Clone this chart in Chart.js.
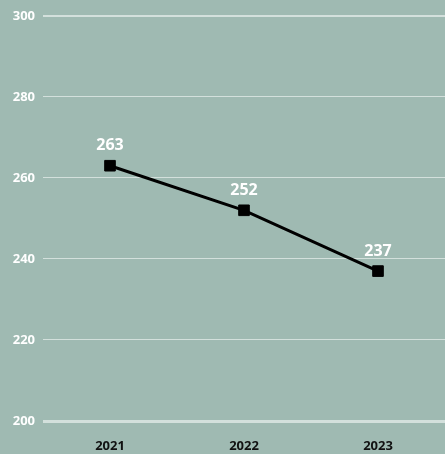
<!DOCTYPE html>
<html>
<head>
<meta charset="utf-8">
<script src="https://cdn.jsdelivr.net/npm/chart.js@4"></script>
<style>
  html, body { margin: 0; padding: 0; background: #9fbab2; overflow: hidden; }
  #wrap { width: 445px; height: 454px; }
</style>
</head>
<body>
<div id="wrap"><canvas id="myChart"></canvas></div>
<script>
const years = ["2021", "2022", "2023"];
const values = [263, 252, 237];
const yTicks = [200, 220, 240, 260, 280, 300];

// values drawn above each point
const valueLabels = {
  id: "valueLabels",
  afterDatasetsDraw(chart) {
    const ctx = chart.ctx;
    const meta = chart.getDatasetMeta(0);
    ctx.save();
    ctx.font = "bold 16px 'Open Sans'";
    ctx.fillStyle = "#ffffff";
    ctx.textAlign = "center";
    ctx.textBaseline = "middle";
    meta.data.forEach((pt, i) => {
      ctx.fillText(values[i], pt.x, pt.y - 20);
    });
    ctx.restore();
  },
};

new Chart("myChart", {
  type: "line",
  data: {
    labels: years,
    datasets: [
      {
        data: values,
        borderColor: "#000000",
        borderWidth: 3,
        pointStyle: "rect",
        pointRadius: 7.5,
        pointBackgroundColor: "#000000",
        pointBorderColor: "#000000",
        pointBorderWidth: 1,
        tension: 0,
      },
    ],
  },
  options: {
    responsive: true,
    maintainAspectRatio: false,
    animation: false,
    layout: { autoPadding: false, padding: { top: 8, right: 0, bottom: 2, left: 11 } },
    plugins: { legend: { display: false }, tooltip: { enabled: false } },
    scales: {
      x: {
        offset: true,
        grid: { display: false, drawTicks: false },
        border: { display: false },
        afterFit: (scale) => {
          scale.height = 31;
        },
        ticks: {
          color: "#111111",
          font: { family: "'Open Sans'", weight: "bold", size: 13 },
          padding: 17,
        },
      },
      y: {
        min: 200,
        max: 300,
        afterBuildTicks: (axis) => {
          axis.ticks = yTicks.map((v) => ({ value: v }));
        },
        afterFit: (scale) => {
          scale.width = 32;
        },
        grid: {
          color: "#d3e0dc",
          lineWidth: (c) => (c.tick && c.tick.value === 200 ? 3 : c.tick && c.tick.value === 300 ? 2 : 1),
          drawTicks: false,
        },
        border: { display: false },
        ticks: {
          color: "#ffffff",
          font: { family: "'Open Sans'", weight: "bold", size: 13 },
          padding: 8,
        },
      },
    },
  },
  plugins: [valueLabels],
});
</script>
</body>
</html>
